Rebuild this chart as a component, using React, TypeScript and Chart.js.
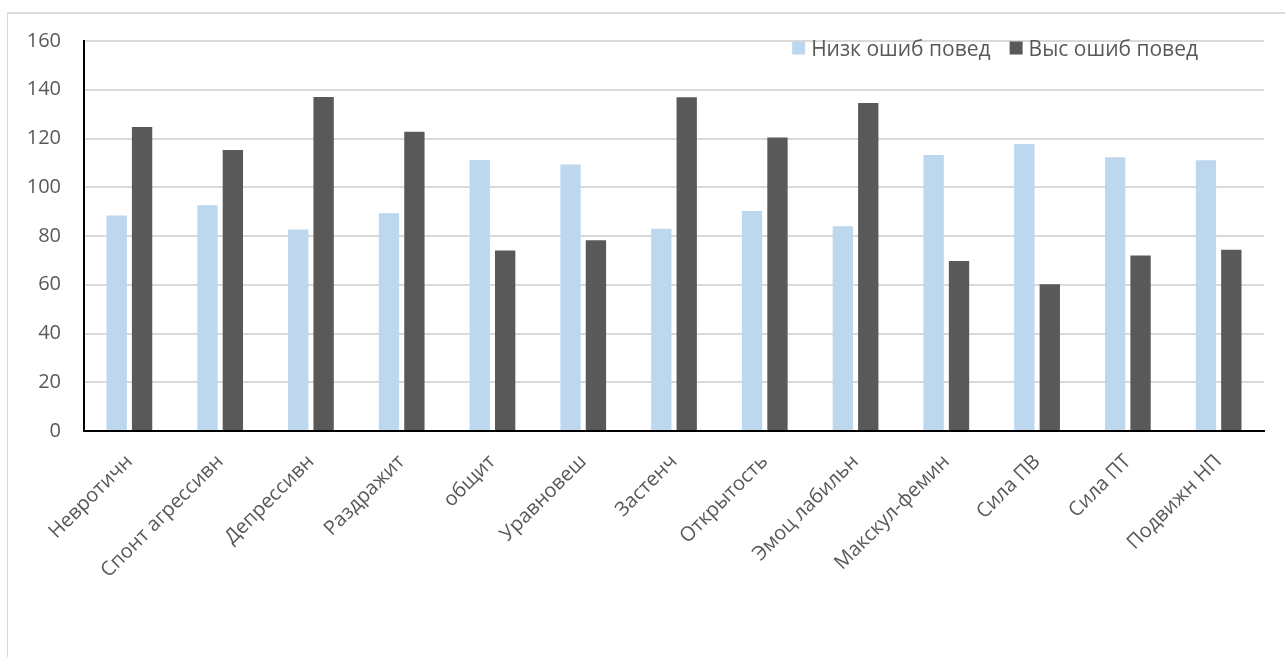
import React, { useEffect, useRef } from "react";
import { Chart, registerables } from "chart.js";

Chart.register(...registerables);

const categories = [
  "Невротичн",
  "Спонт агрессивн",
  "Депрессивн",
  "Раздражит",
  "общит",
  "Уравновеш",
  "Застенч",
  "Открытость",
  "Эмоц лабильн",
  "Макскул-фемин",
  "Сила ПВ",
  "Сила ПТ",
  "Подвижн НП",
];
const lowErrorValues = [88.4, 92.6, 82.7, 89.3, 111.2, 109.3, 83.0, 90.3, 84.0, 113.2, 117.7, 112.3, 111.1];
const highErrorValues = [124.7, 115.3, 137.0, 122.8, 74.1, 78.3, 136.9, 120.4, 134.6, 69.7, 60.2, 72.0, 74.4];
const seriesNames = ["Низк ошиб повед", "Выс ошиб повед"];
const yMin = 0;
const yMax = 160;
const yStep = 20;

const FONT = '"Open Sans", "DejaVu Sans", sans-serif';
const TEXT_COLOR = "#595959";

const insideLegend = {
  id: "insideLegend",
  afterDraw(chart: any) {
    const { ctx, chartArea } = chart;
    ctx.save();
    ctx.font = `21px ${FONT}`;
    const box = 13;
    const gapBoxText = 6;
    const gapItems = 19;
    const items = chart.data.datasets.map((ds: any) => ({
      label: ds.label as string,
      color: ds.backgroundColor as string,
      w: ctx.measureText(ds.label).width,
    }));
    const total =
      items.reduce((s: number, it: any) => s + box + gapBoxText + it.w, 0) +
      gapItems * (items.length - 1);
    let x = chartArea.right - 66 - total;
    const cy = chartArea.top + 7;
    ctx.textBaseline = "alphabetic";
    ctx.textAlign = "left";
    for (const it of items) {
      ctx.fillStyle = it.color;
      ctx.fillRect(x, cy - box / 2, box, box);
      x += box + gapBoxText;
      ctx.fillStyle = TEXT_COLOR;
      ctx.fillText(it.label, x, cy + 7.5);
      x += it.w + gapItems;
    }
    ctx.restore();
  },
};

export default function App() {
  const ref = useRef<HTMLCanvasElement>(null);

  useEffect(() => {
    document.body.style.overflow = "hidden";
    const chart = new Chart(ref.current!, {
      type: "bar",
      data: {
        labels: categories,
        datasets: [
          {
            label: seriesNames[0],
            data: lowErrorValues,
            backgroundColor: "#BDD7EE",
            categoryPercentage: 0.56,
            barPercentage: 0.8,
          },
          {
            label: seriesNames[1],
            data: highErrorValues,
            backgroundColor: "#595959",
            categoryPercentage: 0.56,
            barPercentage: 0.8,
          },
        ],
      },
      options: {
        responsive: false,
        animation: false,
        layout: { padding: { left: 0, top: 41, right: 21, bottom: 0 } },
        plugins: {
          legend: { display: false },
          tooltip: { enabled: false },
        },
        scales: {
          x: {
            grid: { drawOnChartArea: false, drawTicks: false },
            border: { color: "#000000", width: 2 },
            ticks: {
              color: TEXT_COLOR,
              font: { family: FONT, size: 20 },
              minRotation: 45,
              maxRotation: 45,
              autoSkip: false,
              padding: 19,
              labelOffset: 0,
            },
            afterFit: (s: any) => {
              s.height = 226;
            },
          },
          y: {
            min: yMin,
            max: yMax,
            ticks: {
              stepSize: yStep,
              color: TEXT_COLOR,
              font: { family: FONT, size: 20 },
              padding: 23,
            },
            grid: { color: "#D9D9D9", lineWidth: 2, drawTicks: false },
            border: { color: "#000000", width: 2 },
            afterFit: (s: any) => {
              s.width = 84;
            },
          },
        },
      },
      plugins: [insideLegend],
    });
    return () => chart.destroy();
  }, []);

  return (
    <div
      style={{
        position: "fixed",
        left: 0,
        top: 0,
        width: 1285,
        height: 657,
        background: "#ffffff",
        overflow: "hidden",
      }}
    >
      <div
        style={{
          position: "absolute",
          left: 7,
          top: 12,
          width: 1320,
          height: 700,
          borderTop: "2px solid #D9D9D9",
          borderLeft: "1px solid #D9D9D9",
          boxSizing: "border-box",
        }}
      />
      <canvas
        ref={ref}
        width={1285}
        height={657}
        style={{ position: "absolute", left: 0, top: 0, width: 1285, height: 657 }}
      />
    </div>
  );
}
